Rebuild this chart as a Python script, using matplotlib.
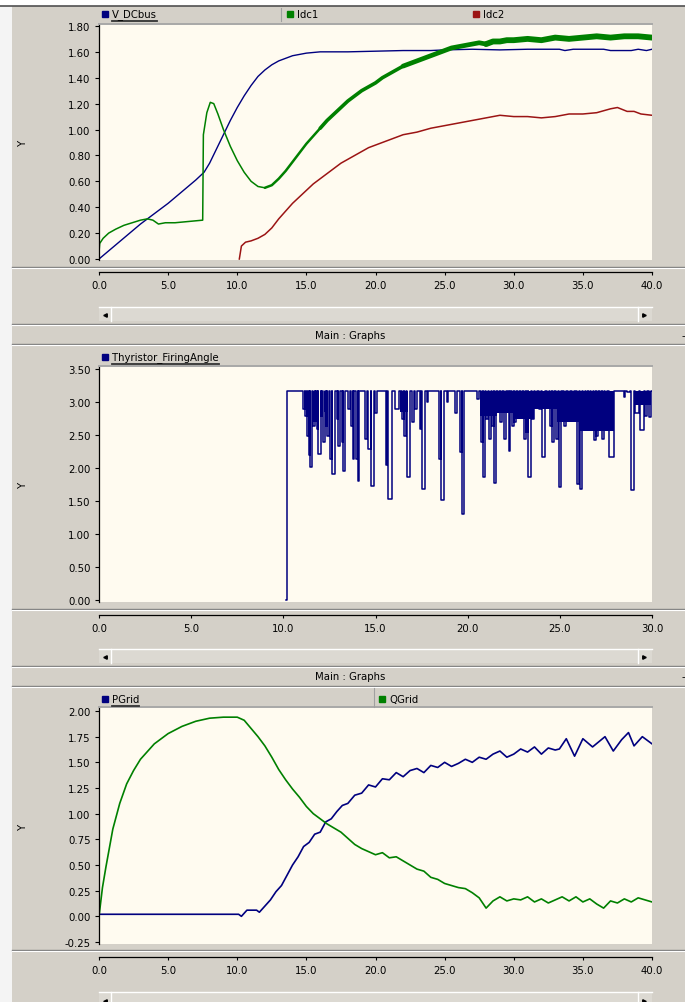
import matplotlib
matplotlib.use("Agg")
import matplotlib.pyplot as plt
from matplotlib.lines import Line2D
from matplotlib.patches import Rectangle

W, H = 685, 1003
GRAY = '#d4d0c8'
CREAM = '#fffbf0'
NAVY = '#00007f'
GREEN = '#008000'
RED = '#9b1414'

# ---- panel 1 : DC bus voltage and DC currents ----
vdc_t = [0, 1, 2, 3, 4, 5, 6, 7, 7.6,
         8, 8.5, 9, 9.5, 10, 10.5, 11, 11.5, 12, 12.5, 13, 13.5, 14,
         15, 16, 18, 20, 22, 24, 25, 27, 29, 31,
         33.3, 33.7, 34.3, 36.5, 37.0, 38.5, 39.0, 39.6, 40]
vdc_v = [0, 0.09, 0.18, 0.27, 0.35, 0.43, 0.52, 0.61, 0.67,
         0.74, 0.85, 0.96, 1.07, 1.17, 1.26, 1.34, 1.41, 1.46, 1.50, 1.53, 1.55, 1.57,
         1.59, 1.60, 1.60, 1.605, 1.61, 1.61, 1.615, 1.62, 1.615, 1.62,
         1.62, 1.61, 1.62, 1.62, 1.61, 1.61, 1.62, 1.61, 1.62]

idc1_t = [0, 0.05, 0.3, 0.7, 1.2, 1.8, 2.4, 3.0, 3.5, 3.9, 4.3, 4.8, 5.5, 6.5,
          7.5, 7.55, 7.8, 8.05, 8.3, 8.6,
          9.0, 9.5, 10.0, 10.5, 11.0, 11.5, 12.0, 12.5, 13.0, 13.5, 14.0, 14.5,
          15.0, 15.5, 16.0, 16.5, 17.0, 17.5, 18.0, 18.5, 19.0, 19.5, 20.0, 20.5,
          21.0, 21.5, 22.0, 22.5, 23.0, 23.5, 24.0, 24.5, 25.0, 25.5, 26.0, 26.5,
          27.0, 27.5, 28.0, 28.5, 29.0, 29.5, 30.0,
          31, 32, 33, 34, 35, 36, 37, 38, 39, 40]
idc1_v = [0.05, 0.12, 0.16, 0.20, 0.23, 0.26, 0.28, 0.30, 0.31, 0.30, 0.27, 0.28, 0.28, 0.29,
          0.30, 0.96, 1.13, 1.21, 1.20, 1.12,
          1.00, 0.87, 0.76, 0.67, 0.60, 0.56, 0.55, 0.57, 0.62, 0.68, 0.75, 0.82,
          0.89, 0.95, 1.01, 1.07, 1.12, 1.17, 1.22, 1.26, 1.30, 1.33, 1.36, 1.40,
          1.43, 1.46, 1.49, 1.51, 1.53, 1.55, 1.57, 1.59, 1.61, 1.63, 1.64, 1.65,
          1.66, 1.67, 1.66, 1.68, 1.68, 1.69, 1.69,
          1.70, 1.69, 1.71, 1.70, 1.71, 1.72, 1.71, 1.72, 1.72, 1.71]

idc2_t = [10.15, 10.3, 10.6, 11.0, 11.5,
          12.0, 12.5, 13.0, 13.5, 14.0, 14.5, 15.0, 15.5, 16.0, 16.5, 17.0, 17.5,
          18.0, 18.5, 19.0, 19.5, 20.0,
          21, 22, 23, 24, 25, 26, 27, 28, 29, 30, 31, 32, 33, 34, 35, 36, 37,
          37.5, 38.2, 38.7, 39.2, 40.0]
idc2_v = [0.0, 0.10, 0.13, 0.14, 0.16,
          0.19, 0.24, 0.31, 0.37, 0.43, 0.48, 0.53, 0.58, 0.62, 0.66, 0.70, 0.74,
          0.77, 0.80, 0.83, 0.86, 0.88,
          0.92, 0.96, 0.98, 1.01, 1.03, 1.05, 1.07, 1.09, 1.11, 1.10, 1.10, 1.09, 1.10,
          1.12, 1.12, 1.13, 1.16,
          1.17, 1.14, 1.14, 1.12, 1.11]

# noise band of Idc1 grows with time: (start time, line width in pt)
idc1_band_t = [12.0, 16.0, 22.0, 28.0]
idc1_band_w = [1.8, 2.6, 3.4, 4.2]

# ---- panel 2 : thyristor firing angle (drops from the ceiling) ----
firing_top = 3.17
firing_on = 10.2
spike_start = [11.05, 11.16, 11.27, 11.38, 11.45, 11.63, 11.70, 11.81, 11.90, 12.06,
               12.14, 12.32, 12.39, 12.54, 12.64, 12.90, 12.99, 13.17, 13.24, 13.53,
               13.69, 13.77, 13.95, 14.04, 14.44, 14.62, 14.74, 14.98, 15.58, 15.70,
               16.06, 16.43, 16.52, 16.70, 16.97, 17.15, 17.39, 17.51, 17.78, 18.47,
               18.58, 18.87, 19.32, 19.59, 19.70, 20.50, 20.73, 20.82, 21.01, 21.15,
               21.33, 21.44, 21.62, 21.77, 21.95, 22.22, 22.38, 22.53, 22.71, 22.85,
               23.03, 23.18, 23.30, 23.50, 23.65, 23.87, 24.03, 24.30, 24.48, 24.57,
               24.77, 24.93, 25.21, 25.42, 25.64, 25.93, 26.11, 26.25, 26.40, 26.54,
               26.69, 26.83, 26.98, 27.16, 27.30, 27.45, 27.65, 28.46, 28.64, 28.86,
               29.10, 29.37, 29.64, 29.82]
spike_end = [11.16, 11.27, 11.38, 11.45, 11.54, 11.70, 11.77, 11.87, 12.03, 12.12,
             12.25, 12.39, 12.46, 12.64, 12.81, 12.97, 13.10, 13.24, 13.35, 13.62,
             13.77, 13.86, 14.04, 14.13, 14.56, 14.74, 14.92, 15.07, 15.65, 15.88,
             16.25, 16.52, 16.63, 16.88, 17.10, 17.24, 17.46, 17.71, 17.87, 18.58,
             18.69, 18.96, 19.41, 19.70, 19.81, 20.64, 20.82, 20.93, 21.11, 21.26,
             21.44, 21.55, 21.73, 21.87, 22.06, 22.31, 22.49, 22.63, 22.82, 22.96,
             23.14, 23.29, 23.43, 23.61, 23.76, 23.97, 24.21, 24.41, 24.57, 24.70,
             24.88, 25.06, 25.31, 25.53, 25.75, 26.02, 26.20, 26.36, 26.51, 26.65,
             26.80, 26.94, 27.09, 27.27, 27.41, 27.56, 27.92, 28.55, 28.79, 29.04,
             29.28, 29.55, 29.73, 29.97]
spike_depth = [2.89, 2.79, 2.49, 2.19, 2.01, 2.64, 3.00, 2.59, 2.21, 2.79,
               2.39, 2.64, 2.49, 2.14, 1.91, 2.74, 2.34, 2.39, 1.96, 2.89,
               2.64, 2.14, 2.14, 1.81, 2.44, 2.29, 1.73, 2.84, 2.04, 1.53,
               2.89, 2.74, 2.49, 1.86, 2.69, 2.89, 2.59, 1.68, 3.00, 2.14,
               1.51, 3.00, 2.84, 2.24, 1.30, 3.05, 2.39, 1.86, 2.74, 2.44,
               2.64, 1.78, 2.89, 2.69, 2.44, 2.26, 2.64, 2.69, 2.84, 2.79,
               2.44, 2.54, 1.86, 2.74, 3.00, 2.89, 2.16, 2.95, 2.64, 2.39,
               2.44, 1.71, 2.64, 2.89, 2.95, 1.76, 1.68, 2.64, 2.69, 2.59,
               2.69, 2.42, 2.49, 2.64, 2.44, 2.64, 2.16, 3.07, 3.15, 1.66,
               2.84, 2.57, 2.79, 2.77]
# stretches where the angle chatters so fast the trace looks filled
chatter_start = [11.55, 12.20, 16.35, 20.68, 21.58, 22.49, 23.58, 24.84, 26.11, 29.00]
chatter_end = [11.95, 12.45, 16.75, 21.58, 22.49, 23.58, 24.84, 26.11, 27.92, 29.97]
chatter_floor = [2.70, 2.85, 2.85, 2.79, 2.84, 2.74, 2.89, 2.69, 2.56, 2.95]

# ---- panel 3 : grid active / reactive power ----
pg_t = [0, 10.1, 10.3, 10.7, 11.4, 11.6,
        12.0, 12.4, 12.8, 13.2, 13.6, 14.0, 14.4, 14.8, 15.2, 15.6, 16.0, 16.4, 16.8, 17.2, 17.6,
        18.0, 18.5, 19.0, 19.5, 20.0, 20.5, 21.0, 21.5, 22.0, 22.5, 23.0, 23.5, 24.0, 24.5,
        25.0, 25.5, 26.0, 26.5, 27.0, 27.5, 28.0, 28.5, 29.0, 29.5, 30.0, 30.5, 31.0, 31.5,
        32.0, 32.5, 33.0,
        33.3, 33.8, 34.4, 35.0, 35.7, 36.6, 37.2, 37.8, 38.3, 38.7, 39.3, 39.8, 40.0]
pg_v = [0.02, 0.02, 0.0, 0.06, 0.06, 0.04,
        0.10, 0.16, 0.24, 0.30, 0.40, 0.50, 0.58, 0.68, 0.72, 0.80, 0.82, 0.92, 0.95, 1.02, 1.08,
        1.10, 1.18, 1.20, 1.28, 1.26, 1.34, 1.33, 1.40, 1.36, 1.42, 1.44, 1.40, 1.47, 1.45,
        1.50, 1.46, 1.49, 1.53, 1.50, 1.55, 1.53, 1.58, 1.61, 1.55, 1.58, 1.63, 1.60, 1.65,
        1.58, 1.64, 1.62,
        1.63, 1.73, 1.56, 1.73, 1.65, 1.75, 1.61, 1.72, 1.79, 1.66, 1.75, 1.70, 1.68]

qg_t = [0, 0.25, 0.5, 1, 1.5, 2, 2.5, 3, 4, 5, 6, 7, 8, 9, 10,
        10.5, 11, 11.5, 12, 12.5, 13, 13.5, 14, 14.5, 15, 15.5, 16, 16.5, 17, 17.5,
        18, 18.5, 19, 19.5, 20, 20.5, 21, 21.5, 22, 22.5, 23, 23.5, 24, 24.5, 25,
        25.5, 26, 26.5, 27, 27.5, 28, 28.5, 29, 29.5, 30, 30.5, 31, 31.5, 32, 32.5,
        33, 33.5, 34, 34.5, 35, 35.5, 36, 36.5, 37, 37.5, 38, 38.5, 39, 39.5, 40]
qg_v = [0, 0.28, 0.48, 0.85, 1.10, 1.29, 1.42, 1.53, 1.68, 1.78, 1.85, 1.90, 1.93, 1.94, 1.94,
        1.91, 1.83, 1.75, 1.66, 1.55, 1.43, 1.33, 1.24, 1.16, 1.07, 1.00, 0.95, 0.90, 0.86, 0.82,
        0.76, 0.70, 0.66, 0.63, 0.60, 0.62, 0.57, 0.58, 0.54, 0.50, 0.46, 0.44, 0.38, 0.36, 0.32,
        0.30, 0.28, 0.27, 0.23, 0.18, 0.08, 0.15, 0.19, 0.15, 0.17, 0.16, 0.19, 0.14, 0.17, 0.13,
        0.16, 0.19, 0.15, 0.19, 0.14, 0.17, 0.12, 0.08, 0.15, 0.13, 0.17, 0.14, 0.18, 0.16, 0.14]

y_ticks1 = [0.0, 0.2, 0.4, 0.6, 0.8, 1.0, 1.2, 1.4, 1.6, 1.8]
y_ticks2 = [0.0, 0.5, 1.0, 1.5, 2.0, 2.5, 3.0, 3.5]
y_ticks3 = [-0.25, 0.0, 0.25, 0.5, 0.75, 1.0, 1.25, 1.5, 1.75, 2.0]
x_ticks40 = [0, 5, 10, 15, 20, 25, 30, 35, 40]
x_ticks30 = [0, 5, 10, 15, 20, 25, 30]

FONT = dict(family='DejaVu Sans', size=7.3)

fig = plt.figure(figsize=(W / 100, H / 100), dpi=100, facecolor=GRAY)


def fx(x):
    return x / W


def fy(y):
    return 1 - y / H


def hline(y, x0=12, x1=W, color='#808080', lw=0.8):
    fig.add_artist(Line2D([fx(x0), fx(x1)], [fy(y), fy(y)], color=color, lw=lw))


def vline(x, y0, y1, color='#808080', lw=0.8):
    fig.add_artist(Line2D([fx(x), fx(x)], [fy(y0), fy(y1)], color=color, lw=lw))


def separator(y):
    hline(y, color='#808080', lw=1.0)
    hline(y + 1.2, color='white', lw=0.8)


def scrollbar(y0, y1):
    fig.add_artist(Rectangle((fx(99), fy(y1)), fx(652) - fx(99), fy(y0) - fy(y1),
                             transform=fig.transFigure, facecolor='#dcd9d2',
                             edgecolor='none'))
    hline(y0, 99, 652, color='white', lw=1.0)
    vline(111, y0, y1, color='white', lw=1.0)
    vline(638, y0, y1, color='white', lw=1.0)
    ym = (y0 + y1) / 2 + 1
    fig.add_artist(Line2D([fx(105)], [fy(ym)], marker='<', ms=2.5, color='black', lw=0))
    fig.add_artist(Line2D([fx(644)], [fy(ym)], marker='>', ms=2.5, color='black', lw=0))


def title_bar(y):
    fig.text(fx(350), fy(y), 'Main : Graphs', ha='center', va='center', **FONT)
    fig.text(fx(684), fy(y), '\u2013', ha='center', va='center', **FONT)


underlined = []


def legend_item(x, y, color, label, underline=False):
    fig.add_artist(Line2D([fx(x)], [fy(y)], marker='s', ms=3.8, color=color, lw=0))
    t = fig.text(fx(x + 7), fy(y), label, ha='left', va='center', **FONT)
    if underline:
        underlined.append((t, y))


def make_axes(top, bottom, ymin, ymax, yticks, xmax, xticks, offset_px):
    ax = fig.add_axes([fx(99), fy(bottom), fx(652) - fx(99), fy(top) - fy(bottom)])
    ax.set_facecolor(CREAM)
    ax.spines['bottom'].set_position(('outward', offset_px * 0.72))
    ax.spines['right'].set_visible(False)
    ax.spines['top'].set_color('#a8a8a8')
    ax.spines['top'].set_linewidth(1.4)
    ax.spines['left'].set_linewidth(0.9)
    ax.spines['bottom'].set_linewidth(0.9)
    ax.set_xlim(0, xmax)
    ax.set_ylim(ymin, ymax)
    ax.set_yticks(yticks)
    ax.set_yticklabels(['%.2f' % v for v in yticks], **FONT)
    ax.set_xticks(xticks)
    ax.set_xticklabels(['%.1f' % v for v in xticks], **FONT)
    ax.tick_params(axis='y', direction='out', length=3, width=0.8, pad=3)
    ax.tick_params(axis='x', direction='out', length=2, width=0.8, pad=4)
    fig.text(fx(23), fy((top + bottom) / 2), 'Y', rotation=90, ha='center', va='center', **FONT)
    return ax


# white window margins
fig.add_artist(Rectangle((0, fy(7)), 1, 7 / H, transform=fig.transFigure,
                         facecolor='white', edgecolor='none'))
fig.add_artist(Rectangle((0, 0), fx(12), fy(7), transform=fig.transFigure,
                         facecolor='#f4f4f4', edgecolor='none'))
hline(7, 0, W, color='#505050', lw=1.2)

# ---------------- panel 1 ----------------
ax1 = make_axes(25, 261, -0.0077, 1.815, y_ticks1, 40, x_ticks40, 12)
ax1.plot(vdc_t, vdc_v, color=NAVY, lw=1.0)
c0 = idc1_t.index(idc1_band_t[0])
ax1.plot(idc1_t[:c0 + 1], idc1_v[:c0 + 1], color=GREEN, lw=1.1)
bounds = [idc1_t.index(b) for b in idc1_band_t] + [len(idc1_t) - 1]
for i, w in enumerate(idc1_band_w):
    a, b = bounds[i], bounds[i + 1]
    ax1.plot(idc1_t[a:b + 1], idc1_v[a:b + 1], color=GREEN, lw=w,
             solid_capstyle='round', solid_joinstyle='round')
ax1.plot(idc2_t, idc2_v, color=RED, lw=1.1)
legend_item(105, 15, NAVY, 'V_DCbus', underline=True)
vline(281, 9, 22, color='#a0a0a0')
legend_item(290, 15, GREEN, 'Idc1')
legend_item(476, 15, RED, 'Idc2')
separator(268)
scrollbar(308, 322)
separator(325)
title_bar(336)
separator(345)

# ---------------- panel 2 ----------------
ax2 = make_axes(367, 603, -0.03, 3.545, y_ticks2, 30, x_ticks30, 13)
for s, e, fl in zip(chatter_start, chatter_end, chatter_floor):
    ax2.fill_between([s, e], [fl, fl], [firing_top, firing_top], color=NAVY, lw=0)
ft = [firing_on - 0.05, firing_on, firing_on]
fv = [0.0, 0.0, firing_top]
for s, e, d in zip(spike_start, spike_end, spike_depth):
    ft += [s, s, e, e]
    fv += [firing_top, d, d, firing_top]
ft.append(30)
fv.append(firing_top)
ax2.plot(ft, fv, color=NAVY, lw=1.1)
legend_item(105, 358, NAVY, 'Thyristor_FiringAngle', underline=True)
separator(610)
scrollbar(650, 664)
separator(667)
title_bar(677)
separator(687)

# ---------------- panel 3 ----------------
ax3 = make_axes(708, 945, -0.2695, 2.039, y_ticks3, 40, x_ticks40, 13)
ax3.plot(pg_t, pg_v, color=NAVY, lw=1.2)
ax3.plot(qg_t, qg_v, color=GREEN, lw=1.2)
legend_item(105, 700, NAVY, 'PGrid', underline=True)
vline(374, 689, 708, color='#a0a0a0')
legend_item(382, 700, GREEN, 'QGrid')
separator(951)
scrollbar(993, 1008)

# underline the selected legend entries
fig.canvas.draw()
for t, y in underlined:
    bb = t.get_window_extent()
    hline(y + 7, bb.x0, bb.x1, color='#333333', lw=1.3)

fig.savefig('out.png', dpi=100, facecolor=GRAY)
